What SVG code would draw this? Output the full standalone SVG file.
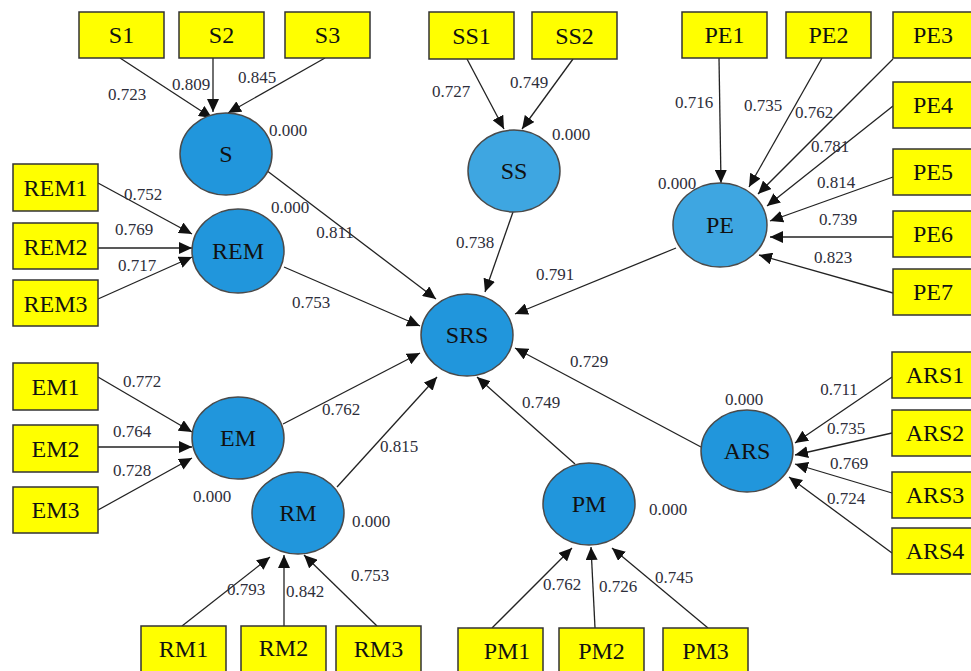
<svg xmlns="http://www.w3.org/2000/svg" width="971" height="671" viewBox="0 0 971 671">
<defs>
<marker id="ah" markerUnits="userSpaceOnUse" markerWidth="14" markerHeight="12" refX="13" refY="6" orient="auto">
<path d="M0,0 L13,6 L0,12 Z" fill="#111"/>
</marker>
<style>
.box rect{fill:#ffff00;stroke:#333;stroke-width:1.5}
.box text{font-family:"Liberation Serif","Times New Roman",serif;font-size:24px;fill:#111;text-anchor:middle}
.lv ellipse{fill:#2196dc;stroke:#4a4a4a;stroke-width:1.5}
.lv.lt ellipse{fill:#3ea6e1}
.lv text{font-family:"Liberation Serif","Times New Roman",serif;font-size:24px;fill:#111;text-anchor:middle}
#connectors line{stroke:#222;stroke-width:1.3;marker-end:url(#ah)}
.num{font-family:"Liberation Serif","Times New Roman",serif;font-size:17px;fill:#2e2e3a;text-anchor:middle}
</style>
</defs>
<rect x="0" y="0" width="971" height="671" fill="#ffffff"/>

<g id="connectors">
<line x1="120" y1="58" x2="212" y2="118"/>
<line x1="213" y1="58" x2="213" y2="112"/>
<line x1="325" y1="58" x2="228" y2="113"/>
<line x1="467" y1="59" x2="504" y2="129"/>
<line x1="573" y1="59" x2="522" y2="129"/>
<line x1="719" y1="58" x2="721" y2="183"/>
<line x1="822" y1="58" x2="749" y2="187"/>
<line x1="893" y1="59" x2="758" y2="194"/>
<line x1="893" y1="106" x2="767" y2="206"/>
<line x1="893" y1="177" x2="770" y2="221"/>
<line x1="893" y1="237" x2="770" y2="237"/>
<line x1="893" y1="293" x2="759" y2="255"/>
<line x1="98" y1="183" x2="192" y2="234"/>
<line x1="98" y1="248" x2="192" y2="248"/>
<line x1="98" y1="299" x2="192" y2="257"/>
<line x1="98" y1="377" x2="192" y2="432"/>
<line x1="98" y1="447" x2="192" y2="447"/>
<line x1="98" y1="510" x2="192" y2="458"/>
<line x1="182" y1="626" x2="270" y2="557"/>
<line x1="284" y1="626" x2="284" y2="555"/>
<line x1="377" y1="626" x2="304" y2="555"/>
<line x1="492" y1="628" x2="572" y2="548"/>
<line x1="595" y1="628" x2="591" y2="547"/>
<line x1="708" y1="628" x2="612" y2="548"/>
<line x1="892" y1="377" x2="795" y2="443"/>
<line x1="892" y1="433" x2="795" y2="455"/>
<line x1="892" y1="493" x2="795" y2="464"/>
<line x1="892" y1="553" x2="789" y2="477"/>
<line x1="266" y1="170" x2="436" y2="299"/>
<line x1="513" y1="212" x2="485" y2="292"/>
<line x1="676" y1="248" x2="515" y2="314"/>
<line x1="284" y1="267" x2="420" y2="326"/>
<line x1="283" y1="424" x2="420" y2="353"/>
<line x1="337" y1="487" x2="437" y2="377"/>
<line x1="575" y1="464" x2="477" y2="377"/>
<line x1="701" y1="447" x2="515" y2="348"/>
</g>

<g id="SRS" class="lv"><ellipse cx="467" cy="335" rx="46" ry="41"/><text x="467" y="343">SRS</text></g>
<g id="S" class="lv"><ellipse cx="226" cy="154" rx="46" ry="41"/><text x="226" y="162">S</text></g>
<g id="SS" class="lv lt"><ellipse cx="514" cy="171" rx="46" ry="41"/><text x="514" y="179">SS</text></g>
<g id="PE" class="lv lt"><ellipse cx="720" cy="225" rx="47" ry="42"/><text x="720" y="233">PE</text></g>
<g id="REM" class="lv"><ellipse cx="238" cy="251" rx="46" ry="42"/><text x="238" y="259">REM</text></g>
<g id="EM" class="lv"><ellipse cx="238" cy="438" rx="46" ry="41"/><text x="238" y="446">EM</text></g>
<g id="RM" class="lv"><ellipse cx="298" cy="513" rx="46" ry="41"/><text x="298" y="521">RM</text></g>
<g id="PM" class="lv"><ellipse cx="589" cy="504" rx="46" ry="41"/><text x="589" y="512">PM</text></g>
<g id="ARS" class="lv"><ellipse cx="747" cy="451" rx="46" ry="41"/><text x="747" y="459">ARS</text></g>

<g id="S1" class="box"><rect x="79" y="12" width="85" height="46"/><text x="121.5" y="43">S1</text></g>
<g id="S2" class="box"><rect x="179" y="12" width="85" height="46"/><text x="221.5" y="43">S2</text></g>
<g id="S3" class="box"><rect x="285" y="12" width="85" height="46"/><text x="327.5" y="43">S3</text></g>
<g id="SS1" class="box"><rect x="429" y="12" width="85" height="47"/><text x="471.5" y="44">SS1</text></g>
<g id="SS2" class="box"><rect x="532" y="12" width="85" height="47"/><text x="574.5" y="44">SS2</text></g>
<g id="PE1" class="box"><rect x="682" y="12" width="85" height="46"/><text x="724.5" y="43">PE1</text></g>
<g id="PE2" class="box"><rect x="786" y="12" width="85" height="46"/><text x="828.5" y="43">PE2</text></g>
<g id="PE3" class="box"><rect x="893" y="12" width="85" height="46"/><text x="933" y="43">PE3</text></g>
<g id="PE4" class="box"><rect x="893" y="82" width="85" height="46"/><text x="933" y="113">PE4</text></g>
<g id="PE5" class="box"><rect x="893" y="149" width="85" height="46"/><text x="933" y="180">PE5</text></g>
<g id="PE6" class="box"><rect x="893" y="211" width="85" height="46"/><text x="933" y="242">PE6</text></g>
<g id="PE7" class="box"><rect x="893" y="269" width="85" height="46"/><text x="933" y="300">PE7</text></g>
<g id="REM1" class="box"><rect x="13" y="164" width="85" height="47"/><text x="55.5" y="196">REM1</text></g>
<g id="REM2" class="box"><rect x="13" y="223" width="85" height="46"/><text x="55.5" y="255">REM2</text></g>
<g id="REM3" class="box"><rect x="13" y="280" width="85" height="46"/><text x="55.5" y="312">REM3</text></g>
<g id="EM1" class="box"><rect x="13" y="363" width="85" height="47"/><text x="55.5" y="395">EM1</text></g>
<g id="EM2" class="box"><rect x="13" y="425" width="85" height="47"/><text x="55.5" y="457">EM2</text></g>
<g id="EM3" class="box"><rect x="13" y="487" width="85" height="46"/><text x="55.5" y="518">EM3</text></g>
<g id="RM1" class="box"><rect x="141" y="626" width="85" height="46"/><text x="183.5" y="657">RM1</text></g>
<g id="RM2" class="box"><rect x="241" y="626" width="85" height="46"/><text x="283.5" y="656">RM2</text></g>
<g id="RM3" class="box"><rect x="336" y="626" width="85" height="46"/><text x="378.5" y="657">RM3</text></g>
<g id="PM1" class="box"><rect x="458" y="628" width="85" height="46"/><text x="507" y="659">PM1</text></g>
<g id="PM2" class="box"><rect x="559" y="628" width="85" height="46"/><text x="601.5" y="659">PM2</text></g>
<g id="PM3" class="box"><rect x="663" y="628" width="85" height="46"/><text x="705.5" y="659">PM3</text></g>
<g id="ARS1" class="box"><rect x="892" y="352" width="86" height="46"/><text x="935" y="383">ARS1</text></g>
<g id="ARS2" class="box"><rect x="892" y="410" width="86" height="46"/><text x="935" y="441">ARS2</text></g>
<g id="ARS3" class="box"><rect x="892" y="472" width="86" height="46"/><text x="935" y="503">ARS3</text></g>
<g id="ARS4" class="box"><rect x="892" y="528" width="86" height="46"/><text x="935" y="559">ARS4</text></g>

<g id="labels">
<text class="num" x="127" y="100">0.723</text>
<text class="num" x="191" y="90">0.809</text>
<text class="num" x="257" y="83">0.845</text>
<text class="num" x="288" y="136">0.000</text>
<text class="num" x="451" y="97">0.727</text>
<text class="num" x="529" y="88">0.749</text>
<text class="num" x="571" y="140">0.000</text>
<text class="num" x="694" y="108">0.716</text>
<text class="num" x="763" y="111">0.735</text>
<text class="num" x="814" y="118">0.762</text>
<text class="num" x="830" y="152">0.781</text>
<text class="num" x="836" y="188">0.814</text>
<text class="num" x="838" y="225">0.739</text>
<text class="num" x="833" y="263">0.823</text>
<text class="num" x="677" y="189">0.000</text>
<text class="num" x="143" y="200">0.752</text>
<text class="num" x="134" y="235">0.769</text>
<text class="num" x="137" y="271">0.717</text>
<text class="num" x="290" y="213">0.000</text>
<text class="num" x="311" y="308">0.753</text>
<text class="num" x="335" y="238">0.811</text>
<text class="num" x="475" y="248">0.738</text>
<text class="num" x="555" y="280">0.791</text>
<text class="num" x="589" y="367">0.729</text>
<text class="num" x="541" y="408">0.749</text>
<text class="num" x="341" y="415">0.762</text>
<text class="num" x="142" y="387">0.772</text>
<text class="num" x="132" y="437">0.764</text>
<text class="num" x="132" y="476">0.728</text>
<text class="num" x="212" y="502">0.000</text>
<text class="num" x="399" y="452">0.815</text>
<text class="num" x="371" y="527">0.000</text>
<text class="num" x="246" y="595">0.793</text>
<text class="num" x="305" y="597">0.842</text>
<text class="num" x="370" y="581">0.753</text>
<text class="num" x="668" y="515">0.000</text>
<text class="num" x="562" y="590">0.762</text>
<text class="num" x="618" y="592">0.726</text>
<text class="num" x="674" y="583">0.745</text>
<text class="num" x="744" y="405">0.000</text>
<text class="num" x="839" y="395">0.711</text>
<text class="num" x="846" y="434">0.735</text>
<text class="num" x="849" y="469">0.769</text>
<text class="num" x="846" y="504">0.724</text>
</g>
</svg>
